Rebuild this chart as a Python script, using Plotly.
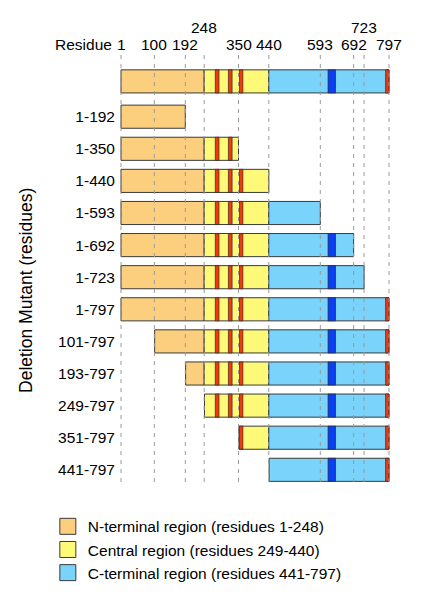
import plotly.graph_objects as go

# ---------------- data ----------------
full_label = "Full length"
full_start, full_end = 1, 797

mutants = ["1-192", "1-350", "1-440", "1-593", "1-692", "1-723", "1-797",
           "101-797", "193-797", "249-797", "351-797", "441-797"]
mut_start = [1, 1, 1, 1, 1, 1, 1, 101, 193, 249, 351, 441]
mut_end = [192, 350, 440, 593, 692, 723, 797, 797, 797, 797, 797, 797]

# regions (residue ranges)
region_names = ["N-terminal region (residues 1-248)",
                "Central region (residues 249-440)",
                "C-terminal region (residues 441-797)"]
region_start = [1, 248, 440]
region_end = [248, 440, 797]
region_colors = ["#FCCF7E", "#FFF978", "#7AD3FA"]

# motif stripes (residue ranges)
red_start = [281, 320, 353, 787]
red_end = [292, 331, 363, 797]
blue_start = [616]
blue_end = [638]

tick_residues = [1, 100, 192, 248, 350, 440, 593, 692, 723, 797]
tick_raised = [False, False, False, True, False, False, False, False, True, False]

# ---------------- build ----------------
rows_y = [-1.1] + list(range(len(mutants)))
rows_s = [full_start] + mut_start
rows_e = [full_end] + mut_end

OUTLINE = "#3a3a3a"
BAR_W = 0.72


def segments(seg_s, seg_e):
    ys, bases, widths = [], [], []
    for y, s, e in zip(rows_y, rows_s, rows_e):
        for a, b in zip(seg_s, seg_e):
            lo, hi = max(s, a), min(e, b)
            if hi > lo:
                ys.append(y)
                bases.append(lo)
                widths.append(hi - lo)
    return ys, bases, widths


fig = go.Figure()

for i in range(3):
    ys, bases, widths = segments([region_start[i]], [region_end[i]])
    fig.add_trace(go.Bar(orientation="h", y=ys, base=bases, x=widths,
                         width=BAR_W, marker=dict(color=region_colors[i],
                                                   line=dict(color=OUTLINE, width=1)),
                         showlegend=False, hoverinfo="skip"))

for ss, ee, col in [(red_start, red_end, "#F5380A"), (blue_start, blue_end, "#0B3FF0")]:
    ys, bases, widths = segments(ss, ee)
    fig.add_trace(go.Bar(orientation="h", y=ys, base=bases, x=widths,
                         width=BAR_W, marker=dict(color=col,
                                                   line=dict(color="#2a2a2a", width=0.7)),
                         showlegend=False, hoverinfo="skip"))

# legend entries
for i in range(3):
    fig.add_trace(go.Scatter(x=[None], y=[None], mode="markers", name=region_names[i],
                             legendgroup=str(i),
                             marker=dict(symbol="square", size=16, color=region_colors[i],
                                         line=dict(color=OUTLINE, width=1))))

# dashed reference lines
for r in tick_residues:
    fig.add_shape(type="line", xref="x", yref="paper", x0=r, x1=r, y0=0, y1=1,
                  layer="above", line=dict(color="#9a9a9a", width=1, dash="4px,5px"))

annotations = []
for r, up in zip(tick_residues, tick_raised):
    annotations.append(dict(x=r, xref="x", y=1, yref="paper", text=str(r),
                            showarrow=False, yanchor="middle",
                            yshift=28 if up else 11, font=dict(size=15.5)))
annotations.append(dict(x=1, xref="x", y=1, yref="paper", text="Residue",
                        showarrow=False, xanchor="right", yanchor="middle",
                        xshift=-7, yshift=11, font=dict(size=15.5)))
annotations.append(dict(x=-0.317, xref="paper", y=0.4496, yref="paper",
                        text="Deletion Mutant (residues)", textangle=-90,
                        xanchor="center", yanchor="middle",
                        showarrow=False, font=dict(size=17.5)))

# page body has an 8px default margin: figure is 8px smaller, margins shifted
fig.update_layout(
    width=421, height=591,
    margin=dict(l=108, r=29, t=47, b=117, autoexpand=False),
    paper_bgcolor="white", plot_bgcolor="white",
    font=dict(family="Liberation Sans, Arial, sans-serif", color="black"),
    barmode="overlay",
    xaxis=dict(range=[-13.85, 829.7], showgrid=False, zeroline=False,
               showticklabels=False, showline=False, ticks="", automargin=False),
    yaxis=dict(range=[11.38, -1.922], tickvals=list(range(len(mutants))),
               ticktext=mutants, tickfont=dict(size=15.5), showgrid=False,
               zeroline=False, showline=False, ticks="", automargin=False),
    legend=dict(x=-0.24, y=-0.065, xanchor="left", yanchor="top",
                font=dict(size=15.5), bgcolor="rgba(0,0,0,0)",
                tracegroupgap=0, itemclick=False),
    annotations=annotations,
    showlegend=True,
)

fig.write_html("out.html")
